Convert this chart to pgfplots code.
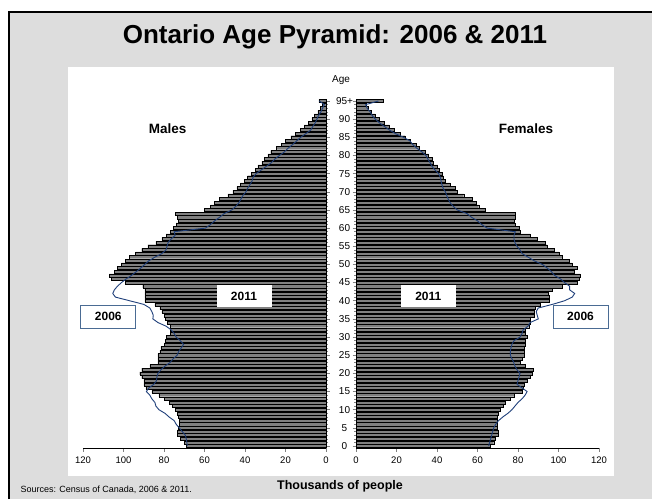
\documentclass[border=0pt]{standalone}
\usepackage{pgfplots}
\pgfplotsset{compat=1.18}
\usepackage{pgfplotstable}
\usepackage{fontspec}
\setmainfont{Liberation Sans}
\definecolor{bgGray}{HTML}{DDDDDD}
\definecolor{barGray}{HTML}{808080}
\definecolor{lineBlue}{HTML}{1F3F7A}
\definecolor{boxBlue}{HTML}{4A6B93}

% age, value (thousands)
\pgfplotstableread{
age m11 m06 f11 f06
0 69 68.5 66.3 65.5
1 70 68.7 68 66
2 72 69 68.8 66.5
3 73.5 69.5 70.4 67
4 73.5 71 70.4 67.5
5 73 72.5 69.6 68
6 72.5 74 69.6 69
7 72.5 75 69.6 70.4
8 73 77.5 69.6 72.5
9 73.5 79.5 70.4 75
10 74.5 82.5 71.3 77
11 76 84 72.9 78.5
12 77.5 84.5 73.8 80
13 80 86 76.2 82
14 82.5 87 77.9 83.5
15 86 88.7 82 84.5
16 89 87.5 82.8 82
17 90 85 83.3 79.5
18 90 83.7 84.5 80
19 91 83.5 86.1 80.5
20 92 83 87 81
21 91 81.5 87.5 79.5
22 87 79.5 83.7 78.5
23 83 77 81.2 77.9
24 83 75.5 82 77
25 83 73.5 83.3 76.2
26 82 72.8 83.2 76.2
27 81.5 71.5 83.2 76.5
28 80 70.3 83.7 77
29 79.5 72 83.7 78
30 79 74 84.5 81
31 77 75 83.7 82
32 77 76.5 83.7 82.5
33 77 79 85.3 85
34 78.5 83 85.8 86
35 79.5 85.5 86.1 90
36 80 85.3 87.8 89.5
37 81 86 87.8 89
38 82 87 88.6 90
39 84.5 90 91.1 97
40 89.5 97 95.2 103
41 89.5 104 95.2 106.8
42 89.5 105.3 94.7 108
43 89.5 104.5 96.9 105.5
44 90.5 103 101.8 105.5
45 99 101 109.2 103
46 106 98.7 110.1 101
47 107 96 110.6 98
48 104.5 93.7 107.6 96.5
49 103 91.5 109.2 94.4
50 101 89.5 106.8 92
51 99 87.5 105.1 88
52 97 84.5 101.8 85
53 94 81 100.2 82
54 91 79 97.7 81
55 88 78.5 94.4 79.5
56 84 78 93.6 78.5
57 81 76.5 89.4 78
58 79 74.5 85.8 78
59 77 75 81.2 78.7
60 75.5 59.5 80.4 64.7
61 74 57 78.7 62
62 73 55 77.9 60
63 73.5 52.5 78.7 57
64 74.5 50.3 78.7 54.8
65 60 46.5 63.9 50
66 57 44.5 60.6 48
67 55 43 59.3 46.5
68 52.5 42 57.3 45.5
69 48.5 41 53.2 44.8
70 46 39.5 50 44.1
71 44 38.7 49 43
72 42.3 37.5 46.5 42.4
73 40.3 36.5 44.1 42
74 38.7 36 43.2 41.6
75 36.7 34.5 42.4 40.8
76 35 32 41.3 39
77 33.7 29.5 40.3 37.5
78 31.7 27 38.3 36.6
79 30.3 25.3 37.5 35.5
80 28.7 23 35.8 34.5
81 27.3 20.5 34.2 32.5
82 24.5 18.7 31.4 30
83 22 16.5 29.7 28
84 20 14.5 26.7 26.7
85 17.3 12.5 24.3 23.5
86 15 10 21.8 19.5
87 12.8 7.5 18.8 16.5
88 10.7 6.5 16.5 14
89 8.7 5.3 13.9 11.5
90 7 4.5 11.5 9.5
91 5.7 3.7 9.4 8
92 4 2.5 7.7 7
93 2.8 1.7 6.2 5.5
94 1.7 0.8 5 4.8
95 3.5 3.3 13.5 11.1
}\pyramid

\pgfplotsset{
  pyr/.style={
    scale only axis,
    width=243pt, height=349.4pt,
    ymin=-0.6, ymax=95.6,
    axis x line*=bottom,
    tick align=outside,
    major tick length=3.5pt,
    minor tick length=2pt,
    ytick={0,5,...,95},
    minor ytick={0,1,...,95},
    ytick style={line width=0.5pt},
    xtick style={line width=0.6pt},
    axis line style={line width=0.7pt},
    /pgf/number format/assume math mode=true,
    xticklabel style={font=\fontsize{9.5}{11}\selectfont, yshift=-2pt},
    clip=false,
  },
  barsty/.style={xbar, bar width=3.1pt, bar shift=0pt, fill=barGray, draw=black, line width=0.4pt},
  linesty/.style={lineBlue, line width=0.9pt, no marks},
}

\begin{document}
\begin{tikzpicture}
\useasboundingbox (0pt,0pt) rectangle (652pt,499pt);
\fill[white] (0pt,0pt) rectangle (652pt,499pt);
\fill[bgGray] (9pt,0pt) rectangle (652pt,487pt);
\draw[black, line width=1.2pt] (9pt,0pt) -- (9pt,487pt) -- (652pt,487pt);
\fill[white] (68pt,23pt) rectangle (614pt,432pt);

\node[font=\fontsize{26}{30}\selectfont\bfseries] at (335pt,462pt) {Ontario Age Pyramid: 2006 \& 2011};

% Males
\begin{axis}[pyr,
  at={(83pt,50.8pt)}, anchor=south west,
  xmin=-120, xmax=0,
  axis y line*=right,
  xtick={-120,-100,...,0},
  xticklabels={120,100,80,60,40,20,0},
  yticklabels={},
]
\addplot[barsty] table[x expr=-\thisrow{m11}, y=age] {\pyramid};
\addplot[linesty] table[x expr=-\thisrow{m06}, y=age] {\pyramid};
\end{axis}

% Females
\begin{axis}[pyr,
  at={(356pt,50.8pt)}, anchor=south west,
  xmin=0, xmax=120,
  axis y line*=left,
  xtick={0,20,...,120},
  yticklabels={0,5,10,15,20,25,30,35,40,45,50,55,60,65,70,75,80,85,90,95+},
  yticklabel style={font=\fontsize{10}{12}\selectfont, anchor=center, xshift=-8pt},
]
\addplot[barsty] table[x=f11, y=age] {\pyramid};
\addplot[linesty] table[x=f06, y=age] {\pyramid};
\end{axis}

\node[font=\fontsize{10}{12}\selectfont] at (341pt,418.5pt) {Age};
\node[font=\fontsize{13.5}{15}\selectfont\bfseries] at (167.7pt,370pt) {Males};
\node[font=\fontsize{13.5}{15}\selectfont\bfseries] at (526pt,370pt) {Females};

\node[fill=white, minimum width=55pt, minimum height=22pt, inner sep=0pt, font=\fontsize{12}{14}\selectfont\bfseries] at (244pt,203pt) {2011};
\node[fill=white, minimum width=55pt, minimum height=22pt, inner sep=0pt, font=\fontsize{12}{14}\selectfont\bfseries] at (428.3pt,203pt) {2011};
\node[fill=white, draw=boxBlue, line width=0.8pt, minimum width=55pt, minimum height=23pt, inner sep=0pt, font=\fontsize{12}{14}\selectfont\bfseries] at (108.3pt,182.5pt) {2006};
\node[fill=white, draw=boxBlue, line width=0.8pt, minimum width=55pt, minimum height=23pt, inner sep=0pt, font=\fontsize{12}{14}\selectfont\bfseries] at (580.5pt,182.5pt) {2006};

\node[font=\fontsize{12.5}{14}\selectfont\bfseries] at (340pt,12.5pt) {Thousands of people};
\node[font=\fontsize{9}{10}\selectfont, anchor=west] at (17pt,9pt) {Sources: Census of Canada, 2006 \& 2011.};
\end{tikzpicture}
\end{document}
